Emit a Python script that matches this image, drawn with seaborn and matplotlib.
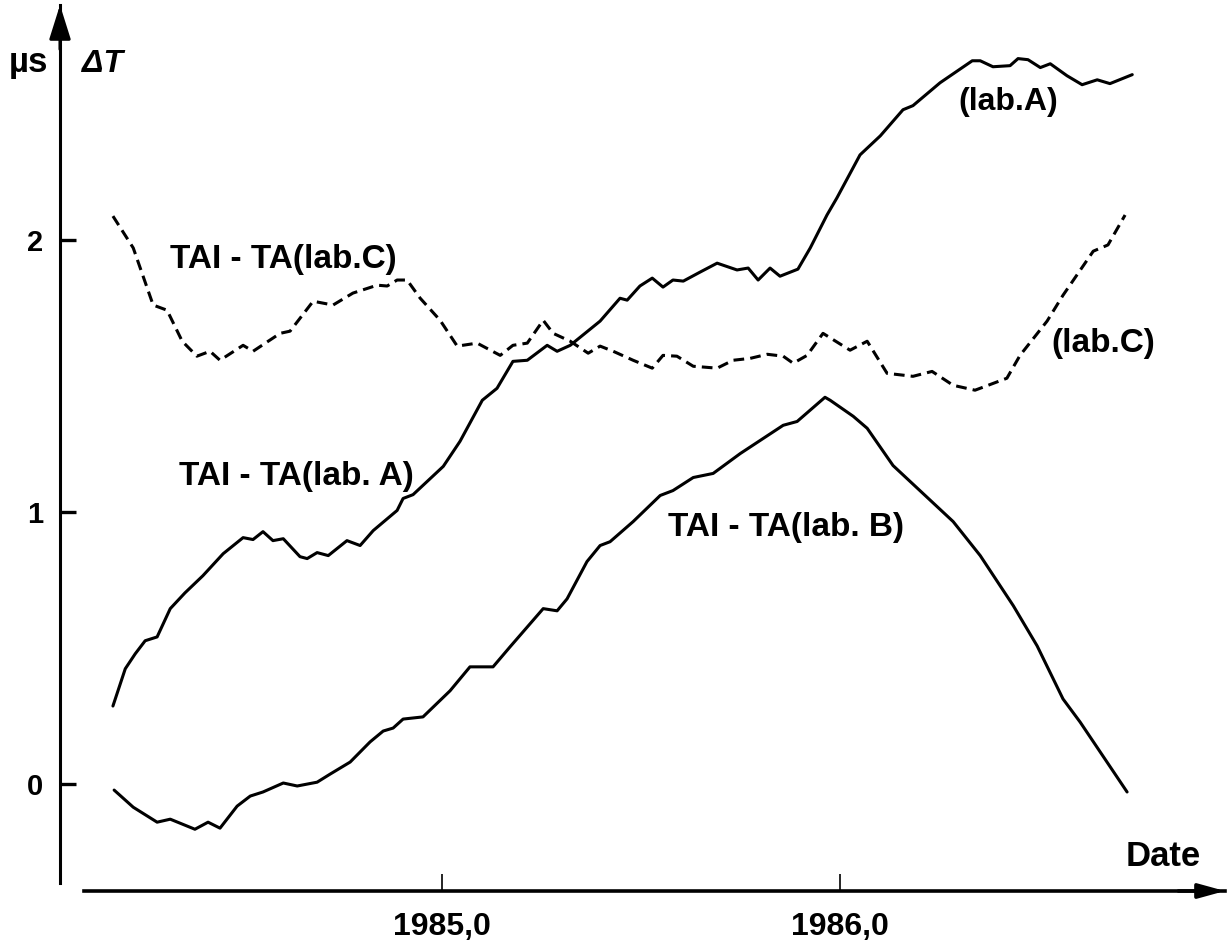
import numpy as np
import pandas as pd
import matplotlib.pyplot as plt
import seaborn as sns

# TAI - TA(lab.A) (date in years, offset in microseconds)
lab_a_date = [1984.173, 1984.204, 1984.229, 1984.254, 1984.284, 1984.317, 1984.354, 1984.399,
              1984.450, 1984.500, 1984.525, 1984.550, 1984.575, 1984.601, 1984.643, 1984.661,
              1984.686, 1984.714, 1984.761, 1984.794, 1984.827, 1984.887, 1984.902, 1984.927,
              1985.003, 1985.045, 1985.101, 1985.138, 1985.178, 1985.214, 1985.264, 1985.289,
              1985.322, 1985.397, 1985.447, 1985.465, 1985.497, 1985.528, 1985.555, 1985.580,
              1985.606, 1985.648, 1985.691, 1985.741, 1985.769, 1985.794, 1985.824, 1985.849,
              1985.894, 1985.925, 1985.967, 1985.992, 1986.050, 1986.101, 1986.158, 1986.183,
              1986.251, 1986.332, 1986.352, 1986.384, 1986.427, 1986.447, 1986.472, 1986.503,
              1986.528, 1986.570, 1986.608, 1986.646, 1986.678, 1986.734]
lab_a_dt = [0.287, 0.424, 0.479, 0.527, 0.541, 0.645, 0.703, 0.766,
            0.847, 0.906, 0.899, 0.928, 0.895, 0.902, 0.836, 0.829,
            0.851, 0.840, 0.895, 0.877, 0.932, 1.006, 1.050, 1.064,
            1.168, 1.260, 1.411, 1.455, 1.554, 1.558, 1.613, 1.591,
            1.613, 1.702, 1.786, 1.779, 1.831, 1.860, 1.827, 1.853,
            1.849, 1.882, 1.915, 1.890, 1.897, 1.853, 1.897, 1.867,
            1.893, 1.971, 2.092, 2.155, 2.313, 2.383, 2.479, 2.494,
            2.578, 2.659, 2.659, 2.637, 2.641, 2.667, 2.663, 2.634,
            2.648, 2.604, 2.571, 2.589, 2.575, 2.608]

# TAI - TA(lab.B)
lab_b_date = [1984.176, 1984.224, 1984.284, 1984.317, 1984.379, 1984.412, 1984.442, 1984.485,
              1984.518, 1984.550, 1984.601, 1984.636, 1984.686, 1984.719, 1984.769, 1984.819,
              1984.852, 1984.877, 1984.902, 1984.952, 1985.020, 1985.070, 1985.128, 1985.171,
              1985.254, 1985.289, 1985.314, 1985.364, 1985.397, 1985.422, 1985.480, 1985.548,
              1985.580, 1985.631, 1985.681, 1985.749, 1985.857, 1985.892, 1985.962, 1985.975,
              1986.033, 1986.068, 1986.133, 1986.284, 1986.352, 1986.435, 1986.495, 1986.560,
              1986.603, 1986.721]
lab_b_dt = [-0.022, -0.085, -0.140, -0.129, -0.166, -0.140, -0.162, -0.081,
            -0.044, -0.029, 0.004, -0.007, 0.007, 0.037, 0.081, 0.155,
            0.195, 0.206, 0.239, 0.247, 0.343, 0.431, 0.431, 0.505,
            0.645, 0.637, 0.681, 0.818, 0.877, 0.891, 0.965, 1.061,
            1.079, 1.127, 1.142, 1.215, 1.319, 1.333, 1.422, 1.411,
            1.352, 1.308, 1.171, 0.965, 0.840, 0.656, 0.508, 0.313,
            0.228, -0.029]

# TAI - TA(lab.C), dashed
lab_c_date = [1984.173, 1984.224, 1984.274, 1984.309, 1984.347, 1984.384, 1984.417, 1984.442,
              1984.500, 1984.525, 1984.593, 1984.618, 1984.676, 1984.726, 1984.776, 1984.837,
              1984.862, 1984.887, 1984.912, 1984.945, 1984.995, 1985.038, 1985.088, 1985.146,
              1985.178, 1985.214, 1985.254, 1985.279, 1985.322, 1985.367, 1985.397, 1985.430,
              1985.480, 1985.528, 1985.555, 1985.590, 1985.631, 1985.691, 1985.731, 1985.774,
              1985.817, 1985.857, 1985.882, 1985.917, 1985.957, 1986.025, 1986.068, 1986.118,
              1986.183, 1986.231, 1986.284, 1986.339, 1986.419, 1986.452, 1986.520, 1986.560,
              1986.636, 1986.673, 1986.716]
lab_c_dt = [2.088, 1.971, 1.761, 1.742, 1.628, 1.573, 1.591, 1.558,
            1.613, 1.591, 1.657, 1.665, 1.775, 1.761, 1.805, 1.834,
            1.831, 1.853, 1.853, 1.786, 1.705, 1.610, 1.621, 1.576,
            1.613, 1.621, 1.705, 1.657, 1.628, 1.584, 1.610, 1.591,
            1.558, 1.529, 1.576, 1.573, 1.536, 1.529, 1.558, 1.565,
            1.580, 1.573, 1.547, 1.576, 1.657, 1.595, 1.628, 1.510,
            1.499, 1.517, 1.466, 1.448, 1.492, 1.576, 1.702, 1.797,
            1.959, 1.982, 2.092]

x_ticks = [1985.0, 1986.0]
x_tick_labels = ['1985,0', '1986,0']
y_ticks = [0, 1, 2]
y_tick_labels = ['0', '1', '2']

sns.set_style('ticks')
plt.rcParams['font.family'] = ['Liberation Sans', 'DejaVu Sans']
plt.rcParams['font.weight'] = 'bold'
plt.rcParams['text.color'] = 'black'
plt.rcParams['axes.edgecolor'] = 'black'
plt.rcParams['xtick.color'] = 'black'
plt.rcParams['ytick.color'] = 'black'

df = pd.concat([
    pd.DataFrame({'date': lab_a_date, 'dt': lab_a_dt, 'lab': 'A'}),
    pd.DataFrame({'date': lab_b_date, 'dt': lab_b_dt, 'lab': 'B'}),
    pd.DataFrame({'date': lab_c_date, 'dt': lab_c_dt, 'lab': 'C'}),
], ignore_index=True)

fig = plt.figure(figsize=(12.28, 9.43), dpi=100)
ax = fig.add_axes([60 / 1228, 1 - 891 / 943, 1165 / 1228, 886 / 943])

sns.lineplot(data=df, x='date', y='dt', style='lab', units='lab', estimator=None,
             dashes={'A': '', 'B': '', 'C': (3.5, 2)}, color='black',
             linewidth=2.2, legend=False, ax=ax)

ax.set_xlim(1984.040, 1986.967)
ax.set_ylim(-0.393, 2.864)

# axes drawn as detached arrows
for side in ['top', 'right']:
    ax.spines[side].set_visible(False)
ax.spines['left'].set_linewidth(2.2)
ax.spines['bottom'].set_linewidth(2.6)
ax.spines['left'].set_bounds(-0.364, 2.864)
ax.spines['bottom'].set_bounds(1984.10, 1986.967)
ax.annotate('', xy=(0, 1), xycoords='axes fraction', xytext=(0, 0.95),
            arrowprops=dict(arrowstyle='-|>,head_length=1.05,head_width=0.33',
                            color='black', lw=2.2, mutation_scale=20, shrinkA=0, shrinkB=0),
            annotation_clip=False)
ax.annotate('', xy=(1, 0), xycoords='axes fraction', xytext=(0.96, 0),
            arrowprops=dict(arrowstyle='-|>,head_length=0.8,head_width=0.22',
                            color='black', lw=2.6, mutation_scale=20, shrinkA=0, shrinkB=0),
            annotation_clip=False)

ax.set_xticks(x_ticks)
ax.set_xticklabels(x_tick_labels, fontsize=23, fontweight='bold')
ax.set_yticks(y_ticks)
ax.set_yticklabels(y_tick_labels, fontsize=21, fontweight='bold')
ax.tick_params(axis='x', direction='in', length=12, width=1.2, pad=15)
ax.tick_params(axis='y', direction='in', length=11.5, width=2.4, pad=12)
ax.set_xlabel('')
ax.set_ylabel('')

ax.text(1983.960, 2.618, 'µs', fontsize=25, fontweight='bold', ha='center', va='baseline')
ax.text(1984.148, 2.618, 'ΔT', fontsize=23, fontweight='bold', style='italic',
        ha='center', va='baseline')
ax.text(1986.812, -0.268, 'Date', fontsize=25, fontweight='bold', ha='center', va='center')

ax.text(1984.600, 1.930, 'TAI - TA(lab.C)', fontsize=24, fontweight='bold', ha='center', va='center')
ax.text(1984.633, 1.129, 'TAI - TA(lab. A)', fontsize=24, fontweight='bold', ha='center', va='center')
ax.text(1985.864, 0.945, 'TAI - TA(lab. B)', fontsize=24, fontweight='bold', ha='center', va='center')
ax.text(1986.422, 2.507, '(lab.A)', fontsize=23, fontweight='bold', ha='center', va='center')
ax.text(1986.661, 1.621, '(lab.C)', fontsize=24, fontweight='bold', ha='center', va='center')

fig.savefig('out.png', dpi=100)
